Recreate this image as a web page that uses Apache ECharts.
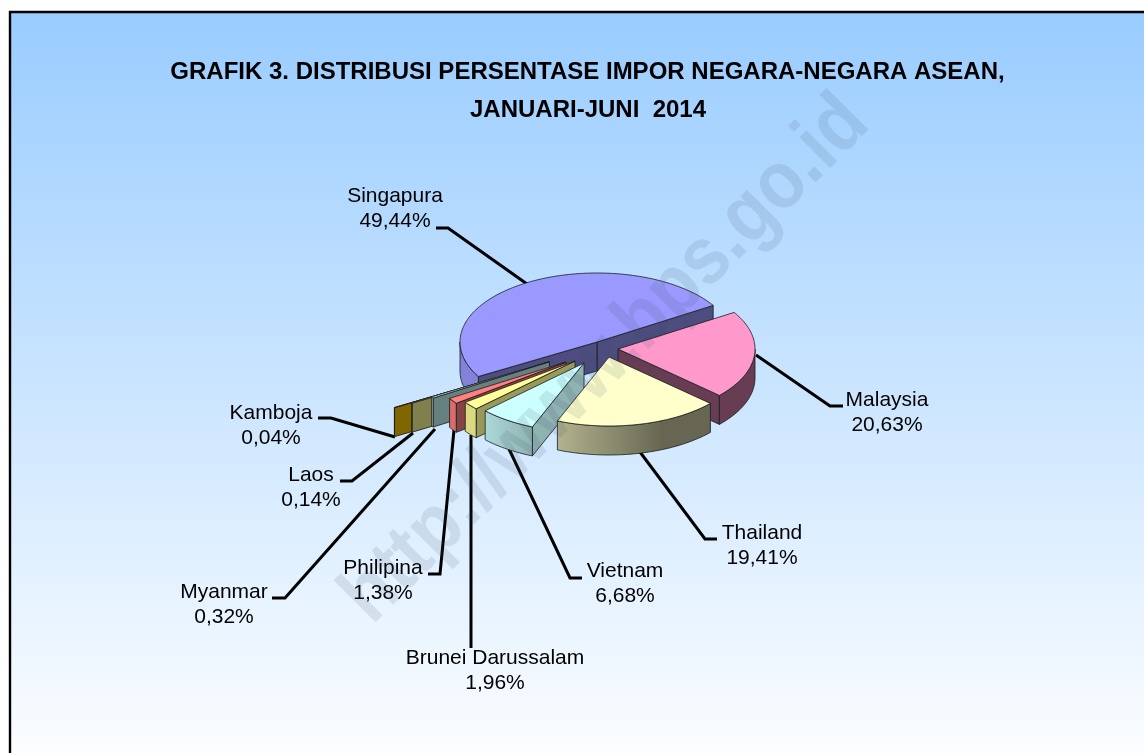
<!DOCTYPE html>
<html>
<head>
<meta charset="utf-8">
<title>Grafik 3</title>
<script src="https://cdn.jsdelivr.net/npm/echarts@6/dist/echarts.min.js"></script>
<style>
html, body { margin: 0; padding: 0; background: #fff; }
#chart { width: 1144px; height: 753px; }
</style>
</head>
<body>
<div id="chart"></div>
<script>
// data
var countries = ['Singapura', 'Malaysia', 'Thailand', 'Vietnam', 'Brunei Darussalam', 'Philipina', 'Myanmar', 'Laos', 'Kamboja'];
var shares = [49.44, 20.63, 19.41, 6.68, 1.96, 1.38, 0.32, 0.14, 0.04];
var titleLines = ['GRAFIK 3. DISTRIBUSI PERSENTASE IMPOR NEGARA-NEGARA ASEAN,', 'JANUARI-JUNI  2014'];

// look of the slices
var topColors = ['#9999ff', '#ff99cc', '#ffffcc', '#ccffff', '#ffff99', '#ff8080', '#ccffff', '#ffff99', '#ffcc00'];
var wallShade = [0.5, 0.4, 0.4, 0.7, 0.6, 0.52, 0.5, 0.5, 0.5];
var explode = [[0, 0], [21, 7], [12, 15], [-13, 21], [-22, 19], [-31, 20], [-47.5, 19.7], [-67, 26], [-84, 31]];
// back to front, the thin slices go behind the bigger ones
var paintOrder = [0, 1, 8, 7, 6, 5, 4, 3, 2];

// label centre and leader line per slice
var labelAt = [[395, 209], [887, 413], [762, 546], [625, 584], [495, 671], [383, 581], [224, 605], [311, 488], [271, 426]];
var leaders = [
    [[436, 228], [448, 228], [527, 284]],
    [[756, 355], [830, 406], [843, 406]],
    [[640, 452], [705, 539], [717, 539]],
    [[509, 449], [570, 578], [582, 578]],
    [[471, 435], [471, 648]],
    [[454, 430], [440, 574], [428, 574]],
    [[435, 429], [285, 598], [272, 598]],
    [[413, 433], [352, 481], [340, 481]],
    [[395, 437], [331, 418], [318, 418]]
];

var cx = 597, cy = 342, rx = 137, ry = 69, depth = 29;
var startAngle = 210;
var fontName = '"Liberation Sans", Arial, sans-serif';
var total = shares.reduce(function (a, b) { return a + b; }, 0);

function shadeColor(hex, k) {
    var n = parseInt(hex.slice(1), 16);
    var r = Math.round((n >> 16 & 255) * k);
    var g = Math.round((n >> 8 & 255) * k);
    var b = Math.round((n & 255) * k);
    return 'rgb(' + r + ',' + g + ',' + b + ')';
}

// how bright the outer wall is at a given angle
function arcShade(deg) {
    var d = deg > 90 ? deg - 360 : deg;
    var stops = [[-180, 0.85], [-136, 0.85], [-112, 0.7], [-67, 0.4], [0, 0.4]];
    for (var i = 1; i < stops.length; i++) {
        if (d <= stops[i][0]) {
            var t = (d - stops[i - 1][0]) / (stops[i][0] - stops[i - 1][0]);
            return stops[i - 1][1] + t * (stops[i][1] - stops[i - 1][1]);
        }
    }
    return 0.4;
}

function rimPoint(ox, oy, deg) {
    var a = deg * Math.PI / 180;
    return [ox + rx * Math.cos(a), oy - ry * Math.sin(a)];
}

function wallPolygon(ox, oy, deg, color, z) {
    var p = rimPoint(ox, oy, deg);
    return {
        type: 'polygon',
        z2: z,
        shape: { points: [[ox, oy], p, [p[0], p[1] + depth], [ox, oy + depth]] },
        style: { fill: color, stroke: '#1a1a1a', lineWidth: 0.8 }
    };
}

// outer wall, only the part of the rim that faces the viewer (180..360 degrees)
function arcPolygon(ox, oy, from, to, base, z) {
    var out = [];
    var k = Math.floor(from / 360);
    var hi = from - k * 360, lo = to - k * 360;
    var pieces = [];
    if (hi > 180 && lo < 360) pieces.push([Math.min(hi, 360), Math.max(lo, 180)]);
    if (lo < 0) pieces.push([Math.min(hi, 0), lo]);
    pieces.forEach(function (pc) {
        if (pc[0] <= pc[1]) return;
        var steps = Math.max(2, Math.ceil(pc[0] - pc[1]));
        var upper = [], lower = [], xs = [];
        for (var i = 0; i <= steps; i++) {
            var deg = pc[0] + (pc[1] - pc[0]) * i / steps;
            var p = rimPoint(ox, oy, deg);
            upper.push(p);
            lower.unshift([p[0], p[1] + depth]);
            xs.push([p[0], deg]);
        }
        xs.sort(function (a, b) { return a[0] - b[0]; });
        var minX = xs[0][0], maxX = xs[xs.length - 1][0];
        var colorStops = xs.map(function (q) {
            return { offset: (q[0] - minX) / (maxX - minX), color: shadeColor(base, arcShade(q[1])) };
        });
        out.push({
            type: 'polygon',
            z2: z,
            shape: { points: upper.concat(lower) },
            style: { fill: new echarts.graphic.LinearGradient(0, 0, 1, 0, colorStops), stroke: '#1a1a1a', lineWidth: 0.8 }
        });
    });
    return out;
}

function renderSlice(params, api) {
    var i = params.dataIndex;
    var before = 0;
    for (var k = 0; k < i; k++) before += shares[k];
    var a1 = startAngle - before / total * 360;
    var a2 = a1 - api.value(0) / total * 360;
    var ox = cx + explode[i][0], oy = cy + explode[i][1];
    var z = 10 + paintOrder[i] * 5;
    var base = topColors[i];
    var children = [];

    // leader goes under the pie, label above it
    children.push({
        type: 'polyline',
        z2: 1,
        shape: { points: leaders[i] },
        style: { fill: null, stroke: '#000', lineWidth: 3 }
    });
    children.push({
        type: 'text',
        z2: 100,
        style: {
            text: countries[i] + '\n' + api.value(0).toFixed(2).replace('.', ',') + '%',
            x: labelAt[i][0],
            y: labelAt[i][1],
            align: 'center',
            verticalAlign: 'middle',
            lineHeight: 25,
            font: '21px ' + fontName,
            fill: '#000'
        }
    });

    // radial walls, visible only when the top face lies above the edge
    if (Math.cos(a2 * Math.PI / 180) > 0) children.push(wallPolygon(ox, oy, a2, shadeColor(base, wallShade[i]), z));
    if (Math.cos(a1 * Math.PI / 180) < 0) children.push(wallPolygon(ox, oy, a1, shadeColor(base, wallShade[i]), z));

    children = children.concat(arcPolygon(ox, oy, a1, a2, base, z + 1));

    var topPts = [[ox, oy]];
    var steps = Math.max(2, Math.ceil(a1 - a2));
    for (var s = 0; s <= steps; s++) {
        topPts.push(rimPoint(ox, oy, a1 + (a2 - a1) * s / steps));
    }
    children.push({
        type: 'polygon',
        z2: z + 2,
        shape: { points: topPts },
        style: { fill: base, stroke: '#1a1a1a', lineWidth: 0.8 }
    });

    return { type: 'group', children: children };
}

var chart = echarts.init(document.getElementById('chart'), null, { renderer: 'canvas' });
chart.setOption({
    animation: false,
    graphic: [
        {
            type: 'rect',
            z: -1,
            silent: true,
            shape: { x: 10, y: 12, width: 1180, height: 770 },
            style: {
                fill: new echarts.graphic.LinearGradient(0, 0, 0, 1, [
                    { offset: 0, color: '#99ccff' },
                    { offset: 1, color: '#ffffff' }
                ]),
                stroke: '#000',
                lineWidth: 2.4
            }
        },
        {
            type: 'text',
            z: 5,
            x: 587.5,
            y: 72,
            silent: true,
            style: { text: titleLines[0], align: 'center', verticalAlign: 'middle', font: 'bold 24px ' + fontName, fill: '#000' }
        },
        {
            type: 'text',
            z: 5,
            x: 588,
            y: 110,
            silent: true,
            style: { text: titleLines[1], align: 'center', verticalAlign: 'middle', font: 'bold 24px ' + fontName, fill: '#000' }
        },
        {
            type: 'text',
            z: 20,
            x: 606,
            y: 360,
            rotation: Math.PI / 4,
            scaleX: 0.88,
            silent: true,
            style: { text: 'http://www.bps.go.id', align: 'center', verticalAlign: 'middle', font: 'bold 82px ' + fontName, fill: 'rgba(60,70,90,0.12)' }
        }
    ],
    series: [{
        type: 'custom',
        coordinateSystem: 'none',
        silent: true,
        renderItem: renderSlice,
        data: shares.map(function (v) { return [v]; })
    }]
});
</script>
</body>
</html>
